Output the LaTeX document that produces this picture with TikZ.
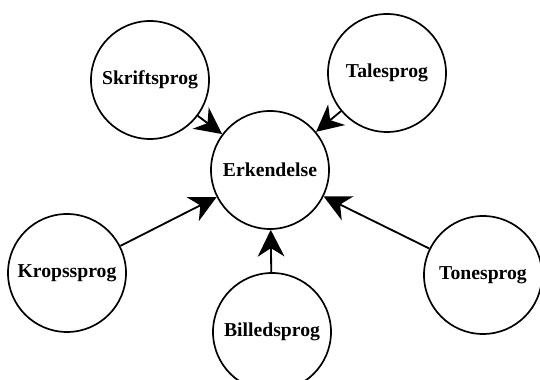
\documentclass[tikz,border=0pt]{standalone}
\usepackage{fontspec}
\setmainfont{Liberation Serif}
\usetikzlibrary{arrows.meta}

\begin{document}
\begin{tikzpicture}[
  sprog/.style={circle,draw,line width=1.2pt,minimum size=2.95cm,inner sep=0pt,
    font=\fontsize{14}{16}\selectfont\bfseries},
  pil/.style={-{Stealth[length=19pt,width=19pt,inset=6pt]},line width=1.3pt}]
\useasboundingbox(0,0)rectangle(13.5,9.5);
\node[sprog](erk)at(6.75,5.25){Erkendelse};
\node[sprog](skrift)at(3.75,7.5){Skriftsprog};
\node[sprog](tale)at(9.675,7.675){Talesprog};
\node[sprog](krop)at(1.675,2.675){Kropssprog};
\node[sprog](billed)at(6.8,1.2){Billedsprog};
\node[sprog](tone)at(12.075,2.625){Tonesprog};
\foreach \s in {skrift,tale,krop,billed,tone}
  \draw[pil](\s)--(erk);
\end{tikzpicture}
\end{document}
